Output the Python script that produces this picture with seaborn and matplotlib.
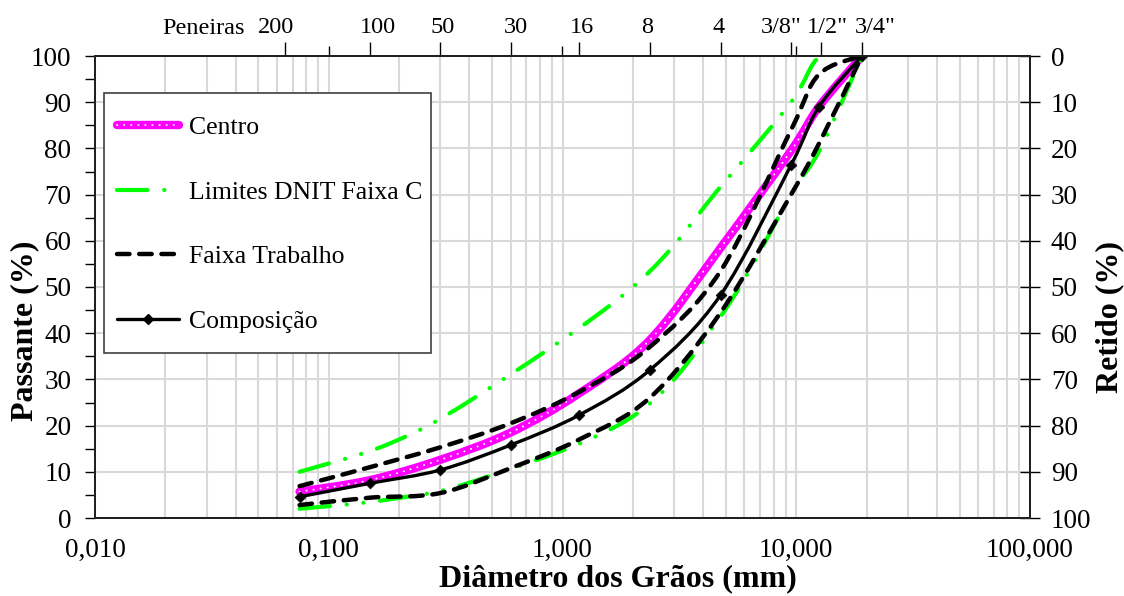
import matplotlib
matplotlib.use("Agg")
import matplotlib.pyplot as plt
import matplotlib.transforms as mtransforms
from matplotlib.lines import Line2D
from matplotlib.patches import PathPatch, Rectangle
from matplotlib.path import Path
from matplotlib.ticker import FixedLocator, LogLocator, NullFormatter, FuncFormatter, MultipleLocator
import numpy as np
import pandas as pd
import seaborn as sns

# Aberturas das peneiras da composição (mm)
peneiras_mm = [0.075, 0.15, 0.3, 0.6, 1.18, 2.36, 4.75, 9.5, 12.5, 19.1]
composicao = [4.6, 7.5, 10.4, 15.8, 22.3, 32.0, 48.3, 76.4, 89.0, 100.0]
centro = [5.7, 8.2, 12.6, 18.5, 27.0, 38.5, 58.5, 79.5, 89.0, 100.0]
faixa_sup = [6.9, 11.0, 15.3, 20.5, 27.3, 37.0, 53.5, 84.0, 96.0, 100.0]
faixa_inf = [2.8, 4.4, 5.4, 10.8, 17.0, 26.0, 44.5, 70.0, 81.0, 100.0]

# Limites da Faixa C do DNIT
dnit_mm = [0.075, 0.18, 0.42, 2.0, 4.8, 9.5, 12.7, 19.1]
dnit_inf = [2, 4, 8, 22, 44, 70, 80, 100]
dnit_sup = [10, 16, 26, 50, 72, 90, 100, 100]

# Eixo superior: peneiras
peneiras_topo_mm = [0.065, 0.15, 0.3, 0.6, 1.18, 2.36, 4.75, 9.5, 12.7, 19.1]
peneiras_topo_rot = ["200", "100", "50", "30", "16", "8", "4", '3/8"', '1/2"', '3/4"']
decadas_mm = [0.01, 0.1, 1, 10, 100]

sns.set_theme(style="white")
plt.rcParams["font.family"] = ["Liberation Serif", "DejaVu Serif"]
plt.rcParams["lines.scale_dashes"] = False
plt.rcParams["mathtext.default"] = "regular"
plt.rcParams["text.color"] = "black"
plt.rcParams["axes.labelcolor"] = "black"

VERDE = "#00FF00"
MAGENTA = "#FF00FF"
CINZA = "#D9D9D9"

traco_ponto = (0, (22, 12, 0.1, 12, 0.1, 12))
tracejado = (0, (9, 7))
pontilhado = (0, (0.1, 5))


def curva_suave(x, y):
    """Curva de Bézier (Catmull-Rom) passando pelos pontos, no espaço log(x)."""
    u = np.log10(np.asarray(x, float))
    v = np.asarray(y, float)
    p = np.column_stack([u, v])
    n = len(p)
    verts = [p[0]]
    codes = [Path.MOVETO]
    for i in range(n - 1):
        p0 = p[i - 1] if i > 0 else p[i]
        p1, p2 = p[i], p[i + 1]
        p3 = p[i + 2] if i + 2 < n else p[i + 1]
        verts += [p1 + (p2 - p0) / 6, p2 - (p3 - p1) / 6, p2]
        codes += [Path.CURVE4] * 3
    verts = np.array(verts)
    verts[:, 0] = 10 ** verts[:, 0]
    return Path(verts, codes)


def desenha(ax, x, y, **kw):
    patch = PathPatch(curva_suave(x, y), fill=False, transform=ax.transData,
                      capstyle="round", joinstyle="round", **kw)
    ax.add_patch(patch)


fig = plt.figure(figsize=(11.24, 5.96), dpi=100, facecolor="white")
ax = fig.add_axes([95 / 1124, 78 / 596, 935 / 1124, 462 / 596])
ax.set_facecolor("white")
ax.set_xscale("log")
ax.set_xlim(0.01, 100)
ax.set_ylim(0, 100)

# grade
ax.xaxis.set_major_locator(FixedLocator(decadas_mm))
ax.xaxis.set_minor_locator(LogLocator(base=10, subs=range(2, 10), numticks=20))
ax.xaxis.set_minor_formatter(NullFormatter())
ax.xaxis.set_major_formatter(FuncFormatter(lambda v, p: f"{v:.3f}".replace(".", ",")))
ax.yaxis.set_major_locator(MultipleLocator(10))
ax.yaxis.set_minor_locator(MultipleLocator(5))
ax.grid(True, which="both", axis="x", color=CINZA, lw=1.5)
ax.grid(True, which="major", axis="y", color=CINZA, lw=1.5)
ax.set_axisbelow(True)

df = pd.DataFrame({"d": peneiras_mm, "comp": composicao, "centro": centro,
                   "sup": faixa_sup, "inf": faixa_inf})
dn = pd.DataFrame({"d": dnit_mm, "inf": dnit_inf, "sup": dnit_sup})

# Centro
desenha(ax, df["d"], df["centro"], edgecolor=MAGENTA, lw=6, zorder=3)
desenha(ax, df["d"], df["centro"], edgecolor="white", lw=1.4, linestyle=pontilhado, zorder=3.1)
# Limites DNIT
for col in ["sup", "inf"]:
    desenha(ax, dn["d"], dn[col], edgecolor=VERDE, lw=3, linestyle=traco_ponto, zorder=4)
# Faixa de trabalho
for col in ["sup", "inf"]:
    desenha(ax, df["d"], df[col], edgecolor="black", lw=3.2, linestyle=tracejado, zorder=5)
# Composição
desenha(ax, df["d"], df["comp"], edgecolor="black", lw=2.4, zorder=6)
sns.scatterplot(data=df, x="d", y="comp", ax=ax, color="black", marker="D",
                s=30, edgecolor="black", linewidth=0.5, zorder=7, legend=False)

ax.set_xlabel("Diâmetro dos Grãos (mm)", fontsize=23, fontweight="bold", color="black")
ax.set_ylabel("Passante (%)", fontsize=23, fontweight="bold", color="black")
ax.xaxis.set_label_coords(0.559, -0.100)
ax.yaxis.set_label_coords(-0.060, 0.405)

ax.tick_params(axis="x", which="both", length=0, labelsize=19.5, pad=14, colors="black")
ax.tick_params(axis="y", which="major", length=7, width=1, direction="out",
               labelsize=19.5, pad=10, left=True, colors="black")
ax.tick_params(axis="y", which="minor", length=7, width=1, direction="out", left=True,
               colors="black")
for s in ax.spines.values():
    s.set_color("black")
    s.set_linewidth(1.2)

# Eixo direito: retido
ax2 = ax.twinx()
ax2.set_ylim(100, 0)
ax2.yaxis.set_major_locator(MultipleLocator(10))
ax2.tick_params(axis="y", which="major", length=14, width=1, direction="inout",
                labelsize=19.5, pad=8, right=True, colors="black")
ax2.set_ylabel("Retido (%)", fontsize=23, fontweight="bold", color="black")
ax2.yaxis.set_label_coords(1.070, 0.435)
ax2.grid(False)
for s in ax2.spines.values():
    s.set_color("black")
    s.set_linewidth(1.2)

# Eixo superior: peneiras
ax3 = ax.twiny()
ax3.set_xscale("log")
ax3.set_xlim(0.01, 100)
ax3.xaxis.set_major_locator(FixedLocator(peneiras_topo_mm))
ax3.xaxis.set_major_formatter(FuncFormatter(
    lambda v, p: peneiras_topo_rot[p] if p is not None and p < len(peneiras_topo_rot) else ""))
ax3.xaxis.set_minor_locator(FixedLocator(decadas_mm[1:-1]))
ax3.xaxis.set_minor_formatter(NullFormatter())
ax3.tick_params(axis="x", which="major", length=10, width=1, direction="out",
                labelsize=17.5, pad=3, top=True, bottom=False, colors="black")
ax3.tick_params(axis="x", which="minor", length=7, width=1, direction="out",
                top=True, bottom=False, colors="black")
ax3.grid(False)
ax3.text(0.1166, 1.059, "Peneiras", transform=ax.transAxes, fontsize=17.5,
         ha="center", va="center", color="black")

# Legenda (moldura desenhada à parte)
ax3.add_patch(Rectangle((0.0096, 0.357), 0.3497, 0.5628, transform=ax.transAxes,
                        facecolor="white", edgecolor="#404040", lw=1.2, zorder=9))
h_centro = (Line2D([], [], color=MAGENTA, lw=6, solid_capstyle="round"),
            Line2D([], [], color="white", lw=1.4, linestyle=pontilhado, dash_capstyle="round"))
h_dnit = Line2D([], [], color=VERDE, lw=3, linestyle=traco_ponto, dash_capstyle="round")
h_faixa = Line2D([], [], color="black", lw=3.2, linestyle=tracejado, dash_capstyle="round")
h_comp = Line2D([], [], color="black", lw=2.4, marker="D", markersize=5)
leg = ax3.legend([h_centro, h_dnit, h_faixa, h_comp],
                 ["Centro", "Limites DNIT Faixa C", "Faixa Trabalho", "Composição"],
                 loc="upper left", bbox_to_anchor=(0.0235, 0.870), borderaxespad=0,
                 fontsize=18.5, handlelength=2.41, handletextpad=0.38,
                 labelspacing=1.62, borderpad=0, numpoints=1, frameon=False,
                 labelcolor="black")
leg.set_zorder(10)

fig.canvas.draw()
# deslocamentos horizontais (pt) dos rótulos das peneiras
desloc = [-6.5, 5.5, 1.5, 3.5, 2.0, -1.5, -1.5, -7.0, 5.0, 9.5]
for tk, dx in zip(ax3.xaxis.get_major_ticks(), desloc):
    lab = tk.label2
    lab.set_transform(lab.get_transform() +
                      mtransforms.ScaledTranslation(dx / 72, 0, fig.dpi_scale_trans))

fig.savefig("out.png", dpi=100, facecolor="white")
